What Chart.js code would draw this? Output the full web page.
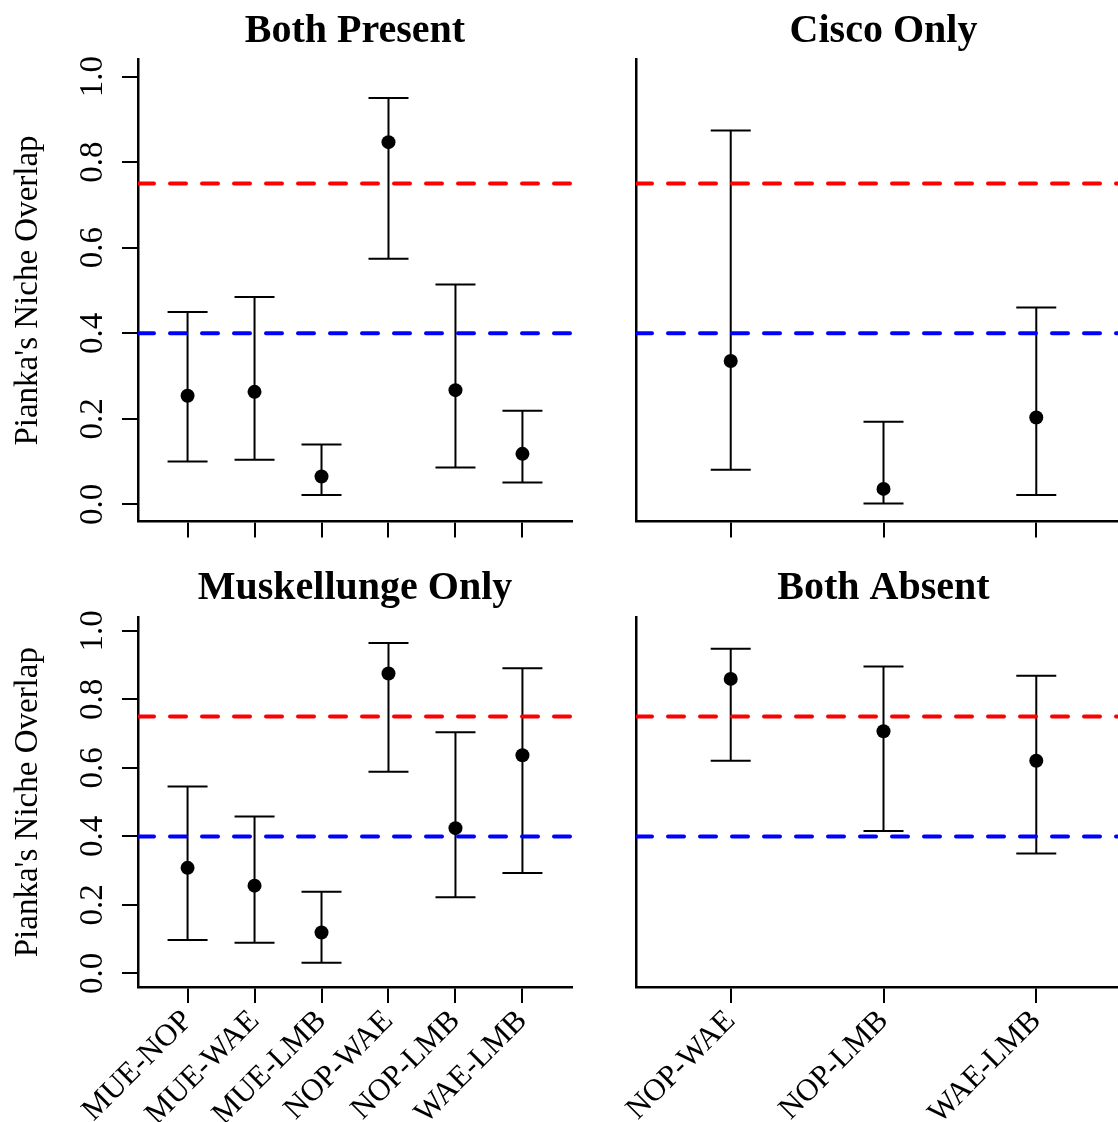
<!DOCTYPE html>
<html>
<head>
<meta charset="utf-8">
<script src="https://cdn.jsdelivr.net/npm/chart.js@4.4.1/dist/chart.umd.min.js"></script>
<style>
  html, body { margin: 0; padding: 0; background: #fff; overflow: hidden; }
  body { width: 1118px; height: 1122px; position: relative; }
  canvas { position: absolute; }
</style>
</head>
<body>
<canvas id="c-both" width="590" height="560" style="left:0;top:0"></canvas>
<canvas id="c-cisco" width="560" height="560" style="left:590px;top:0"></canvas>
<canvas id="c-muskie" width="590" height="562" style="left:0;top:560px"></canvas>
<canvas id="c-absent" width="560" height="562" style="left:590px;top:560px"></canvas>
<script>
// species pairs on the x axis
const pairs6 = ['MUE-NOP', 'MUE-WAE', 'MUE-LMB', 'NOP-WAE', 'NOP-LMB', 'WAE-LMB'];
const pairs3 = ['NOP-WAE', 'NOP-LMB', 'WAE-LMB'];

// Pianka's overlap: mean with lower / upper bounds
const bothPresentMean = [0.254, 0.263, 0.065, 0.847, 0.267, 0.118];
const bothPresentLow  = [0.100, 0.104, 0.022, 0.574, 0.086, 0.051];
const bothPresentHigh = [0.450, 0.485, 0.140, 0.950, 0.514, 0.219];

const ciscoMean = [0.335, 0.036, 0.203];
const ciscoLow  = [0.081, 0.002, 0.022];
const ciscoHigh = [0.874, 0.193, 0.460];

const muskieMean = [0.308, 0.256, 0.119, 0.876, 0.424, 0.637];
const muskieLow  = [0.097, 0.089, 0.031, 0.589, 0.222, 0.293];
const muskieHigh = [0.546, 0.458, 0.238, 0.965, 0.704, 0.891];

const absentMean = [0.860, 0.707, 0.621];
const absentLow  = [0.621, 0.416, 0.350];
const absentHigh = [0.948, 0.896, 0.869];

const yTicks = [0, 0.2, 0.4, 0.6, 0.8, 1.0];
const highOverlap = 0.75;
const lowOverlap = 0.40;

const SERIF = '"Liberation Serif", "Times New Roman", serif';
Chart.defaults.font.family = SERIF;
Chart.defaults.color = '#000';

// whiskers with caps, drawn under the points
const errorBars = {
  id: 'errorBars',
  beforeDatasetsDraw(chart, args, o) {
    const { ctx, scales: { x, y } } = chart;
    ctx.save();
    ctx.strokeStyle = '#000';
    ctx.lineWidth = 2;
    o.low.forEach((lo, i) => {
      const px = x.getPixelForValue(i + 1);
      const yl = y.getPixelForValue(lo);
      const yh = y.getPixelForValue(o.high[i]);
      ctx.beginPath();
      ctx.moveTo(px, yl); ctx.lineTo(px, yh);
      ctx.moveTo(px - 20, yl); ctx.lineTo(px + 20, yl);
      ctx.moveTo(px - 20, yh); ctx.lineTo(px + 20, yh);
      ctx.stroke();
    });
    ctx.restore();
  }
};

// panel title, rotated y tick labels and y title (R style)
const rText = {
  id: 'rText',
  afterDraw(chart, args, o) {
    const { ctx, chartArea: a, scales: { y } } = chart;
    ctx.save();
    ctx.fillStyle = '#000';
    ctx.textAlign = 'center';
    ctx.textBaseline = 'alphabetic';
    ctx.font = 'bold 40px ' + SERIF;
    ctx.fillText(o.title, (a.left + a.right) / 2, a.top - 18);
    if (o.yLabels) {
      ctx.font = '33px ' + SERIF;
      yTicks.forEach(v => {
        ctx.save();
        ctx.translate(102, y.getPixelForValue(v));
        ctx.rotate(-Math.PI / 2);
        ctx.fillText(v.toFixed(1), 0, 0);
        ctx.restore();
      });
      ctx.translate(37, (a.top + a.bottom) / 2);
      ctx.rotate(-Math.PI / 2);
      ctx.fillText("Pianka's Niche Overlap", 0, 0);
    }
    ctx.restore();
  }
};

function panel(id, p) {
  const n = p.cats.length;
  const xMin = 0.5 - 0.04 * n;
  const xMax = n + 0.5 + 0.04 * n;
  const hline = (v, color) => ({
    type: 'line',
    data: [{ x: xMin, y: v }, { x: xMax, y: v }],
    borderColor: color,
    borderWidth: 4,
    borderDash: [16, 16],
    borderCapStyle: 'round',
    pointRadius: 0,
    clip: 0,
    order: 0,
  });

  return new Chart(document.getElementById(id), {
    type: 'scatter',
    data: {
      datasets: [
        {
          data: p.mean.map((m, i) => ({ x: i + 1, y: m })),
          backgroundColor: '#000',
          borderWidth: 0,
          pointRadius: 7,
          order: 1,
        },
        hline(highOverlap, '#ff0000'),
        hline(lowOverlap, '#0000ff'),
      ],
    },
    options: {
      responsive: false,
      devicePixelRatio: 1,
      animation: false,
      events: [],
      layout: { padding: { top: p.top, left: 0, right: p.right, bottom: 0 } },
      plugins: {
        legend: { display: false },
        tooltip: { enabled: false },
        errorBars: { low: p.low, high: p.high },
        rText: { title: p.title, yLabels: p.yLabels },
      },
      scales: {
        x: {
          type: 'linear',
          min: xMin,
          max: xMax,
          afterBuildTicks: s => { s.ticks = p.cats.map((c, i) => ({ value: i + 1 })); },
          ticks: {
            display: p.xLabels,
            autoSkip: false,
            minRotation: 45,
            maxRotation: 45,
            padding: 0,
            font: { size: 31 },
            callback: (v, i) => p.cats[i],
          },
          grid: { drawOnChartArea: false, drawTicks: true, tickLength: 16, color: '#000', lineWidth: 2 },
          border: { display: true, color: '#000', width: 2.5 },
          afterFit: s => { s.height = p.xh; s.paddingLeft = 0; s.paddingRight = 0; },
        },
        y: {
          type: 'linear',
          min: -0.04,
          max: 1.04,
          afterBuildTicks: s => { s.ticks = yTicks.map(v => ({ value: v })); },
          ticks: { display: false },
          grid: p.yLabels
            ? { drawOnChartArea: false, drawTicks: true, tickLength: 16, color: '#000', lineWidth: 2 }
            : { display: false },
          border: { display: true, color: '#000', width: 2.5 },
          afterFit: s => { s.width = p.yw; s.paddingTop = 0; s.paddingBottom = 0; },
        },
      },
    },
    plugins: [errorBars, rText],
  });
}

panel('c-both',   { title: 'Both Present', cats: pairs6, mean: bothPresentMean, low: bothPresentLow, high: bothPresentHigh,
                    yLabels: true, xLabels: false, yw: 138, xh: 38.6, top: 59.6, right: 18 });
panel('c-cisco',  { title: 'Cisco Only', cats: pairs3, mean: ciscoMean, low: ciscoLow, high: ciscoHigh,
                    yLabels: false, xLabels: false, yw: 46, xh: 38.6, top: 59.6, right: 19 });
panel('c-muskie', { title: 'Muskellunge Only', cats: pairs6, mean: muskieMean, low: muskieLow, high: muskieHigh,
                    yLabels: true, xLabels: true, yw: 138, xh: 135, top: 57.3, right: 18 });
panel('c-absent', { title: 'Both Absent', cats: pairs3, mean: absentMean, low: absentLow, high: absentHigh,
                    yLabels: false, xLabels: true, yw: 46, xh: 135, top: 57.3, right: 19 });
</script>
</body>
</html>
